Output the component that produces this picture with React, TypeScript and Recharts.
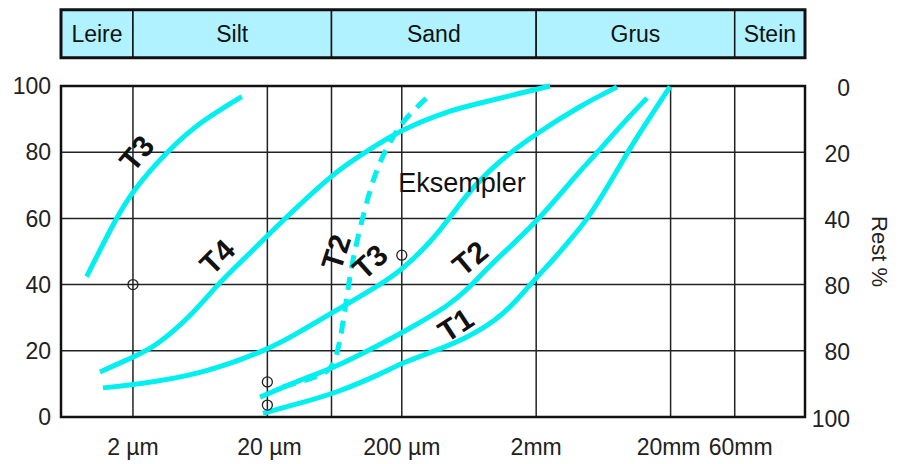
import React from 'react';
import { ComposedChart, Line, Scatter, XAxis, YAxis, CartesianGrid, ReferenceArea } from 'recharts';

// ---- axes ----
const X_MIN = 0.000583; // mm
const X_MAX = 200; // mm
const xTicks = [0.002, 0.02, 0.06, 0.2, 2, 20, 60];
const xTickLabels = ['2 µm', '20 µm', '', '200 µm', '2mm', '20mm', '60mm'];
const xTickNudge = [0, 2, 0, 0, 0, -2, 6];
const yTicks = [0, 20, 40, 60, 80, 100];
const yLeftLabels = ['0', '20', '40', '60', '80', '100'];
const yRightLabels = ['100', '80', '80', '40', '20', '0'];
// "Rest %" scale runs opposite to the passing %
const restX = [X_MIN, X_MAX];
const restY = [0, 100];

// ---- fraction band on top ----
const bandNames = ['Leire', 'Silt', 'Sand', 'Grus', 'Stein'];
const bandEdges = [X_MIN, 0.002, 0.06, 2, 60, X_MAX];
const BAND_Y1 = 108.5;
const BAND_Y2 = 123;

// ---- curves (x in mm, y in % passing) ----
const t3aX = [0.000905, 0.00147, 0.00201, 0.00357, 0.00631, 0.0129];
const t3aY = [42.4, 59.5, 68.6, 80.2, 89.2, 96.8];

const t4X = [0.001137, 0.002, 0.002917, 0.00579, 0.0084, 0.01486, 0.02615, 0.0656, 0.1097, 0.1941, 0.457, 0.764, 1.345, 2.536];
const t4Y = [13.6, 18.1, 21.1, 31.7, 39.9, 49.5, 59.5, 74.6, 80.2, 86.7, 92.7, 94.8, 97.3, 100];

const t3bX = [0.001197, 0.002, 0.00631, 0.02166, 0.035, 0.0656, 0.145, 0.1998, 0.3418, 0.498, 0.7015, 1.076, 2.03, 4.239, 7.99];
const t3bY = [8.8, 9.7, 12.7, 20.8, 25.8, 32.3, 40.5, 44.4, 53.5, 62.5, 70.1, 77.6, 85.8, 94, 99.7];

const t2X = [0.01764, 0.035, 0.0656, 0.145, 0.1998, 0.457, 0.644, 0.907, 2.03, 3.573, 5.671, 8.856, 13.36];
const t2Y = [6.0, 11.2, 15.2, 22.4, 25.4, 33.8, 39.3, 45.9, 58.9, 71, 79.8, 88.8, 96.4];

const t1X = [0.01856, 0.035, 0.0656, 0.145, 0.1998, 0.364, 0.571, 1.0226, 1.44, 2.03, 2.669, 3.573, 4.779, 7.085, 9.985, 14.06, 19.82];
const t1Y = [1.1, 4.2, 7.3, 13.3, 16.3, 20.2, 23.3, 29.3, 35.3, 42.4, 47.4, 53.5, 59.5, 70.7, 81.3, 90.6, 99.8];

const t2dX = [0.02615, 0.04153, 0.0585, 0.06594, 0.0719, 0.0783, 0.0868, 0.1066, 0.1308, 0.1635, 0.2043, 0.3359];
const t2dY = [9.1, 11.5, 13.6, 18.7, 26.3, 36.9, 48.3, 63.4, 75.5, 83.1, 89.7, 97.9];

// ---- sample circles ----
const circX = [0.002, 0.02, 0.02, 0.2];
const circY = [40, 10.6, 3.6, 48.9];

// ---- in-plot labels ----
const labelTexts = ['T3', 'T4', 'T2', 'T3', 'T2', 'T1', 'Eksempler'];
const labelX = [0.00213, 0.00848, 0.0648, 0.116, 0.644, 0.504, 0.561];
const labelY = [79.7, 48.4, 49.8, 46.9, 48, 27.8, 70.7];
const labelAngles = [-50, -45, -72, -42, -40, -33, 0];
const labelBold = [true, true, true, true, true, true, false];

const CYAN = '#00f0f0';
const FONT = '"Liberation Sans", Arial, Helvetica, sans-serif';

const toPts = (xs: number[], ys: number[]) => xs.map((x, i) => ({ x, y: ys[i] }));
const curves = [
  { key: 't3a', data: toPts(t3aX, t3aY), dash: undefined as string | undefined },
  { key: 't4', data: toPts(t4X, t4Y), dash: undefined },
  { key: 't3b', data: toPts(t3bX, t3bY), dash: undefined },
  { key: 't2', data: toPts(t2X, t2Y), dash: undefined },
  { key: 't1', data: toPts(t1X, t1Y), dash: undefined },
  { key: 't2d', data: toPts(t2dX, t2dY), dash: '13 9' },
];
const circles = toPts(circX, circY);
const restPts = toPts(restX, restY);
const labels = labelTexts.map((t, i) => ({ x: labelX[i], y: labelY[i], t, a: labelAngles[i], b: labelBold[i] }));

const findIdx = (arr: number[], v: number) => arr.findIndex((t) => t === v || Math.abs(t - v) / Math.abs(t || 1) < 1e-6);

function XTick(props: any) {
  const { x, y, payload } = props;
  const i = findIdx(xTicks, payload.value);
  return (
    <text x={x + (xTickNudge[i] ?? 0)} y={y + 38} textAnchor="middle" fontSize={23} fill="#222" fontFamily={FONT}>
      {xTickLabels[i] ?? ''}
    </text>
  );
}

function YLeftTick(props: any) {
  const { x, y, payload } = props;
  const i = findIdx(yTicks, payload.value);
  return (
    <text x={x - 10} y={y} dy="0.36em" textAnchor="end" fontSize={23} fill="#222" fontFamily={FONT}>
      {yLeftLabels[i] ?? ''}
    </text>
  );
}

function YRightTick(props: any) {
  const { x, y, payload } = props;
  const i = findIdx(yTicks, payload.value);
  return (
    <text x={x + 45} y={y} dy="0.42em" textAnchor="end" fontSize={23} fill="#222" fontFamily={FONT}>
      {yRightLabels[i] ?? ''}
    </text>
  );
}

const RightTitle = (p: any) => {
  const vb = p.viewBox || { x: 805, y: 86, width: 60, height: 331 };
  const cx = vb.x + vb.width + 14;
  const cy = vb.y + vb.height / 2;
  return (
    <text x={cx} y={cy} transform={`rotate(90 ${cx} ${cy})`} textAnchor="middle" dominantBaseline="central" fontSize={22} fill="#222" fontFamily={FONT}>
      Rest %
    </text>
  );
};

const CircleShape = (p: any) => (
  <circle cx={p.cx} cy={p.cy} r={5} fill="none" stroke="#222" strokeWidth={1.3} />
);

const LabelShape = (p: any) => {
  const { cx, cy, payload } = p;
  return (
    <text
      x={cx}
      y={cy}
      transform={`rotate(${payload.a} ${cx} ${cy})`}
      textAnchor="middle"
      dominantBaseline="central"
      fontSize={payload.b ? 30 : 27}
      fontWeight={payload.b ? 'bold' : 'normal'}
      fill="#111"
      fontFamily={FONT}
    >
      {payload.t}
    </text>
  );
};

export default function App() {
  return (
    <div style={{ position: 'absolute', left: 0, top: 0, width: 903, height: 464, background: '#fff', fontFamily: FONT }}>
      <ComposedChart width={903} height={464} margin={{ top: 86, right: 38, bottom: 7, left: 11 }}>
        <CartesianGrid stroke="#222" strokeWidth={1.5} />
        <XAxis
          dataKey="x"
          type="number"
          scale="log"
          domain={[X_MIN, X_MAX]}
          ticks={xTicks}
          tick={<XTick />}
          tickLine={false}
          axisLine={false}
          tickSize={0}
          tickMargin={0}
          height={40}
          interval={0}
        />
        <YAxis
          type="number"
          domain={[0, 100]}
          ticks={yTicks}
          tick={<YLeftTick />}
          tickLine={false}
          axisLine={false}
          tickSize={0}
          tickMargin={0}
          width={50}
          interval={0}
        />
        <YAxis
          yAxisId="right"
          orientation="right"
          type="number"
          domain={[0, 100]}
          ticks={yTicks}
          tick={<YRightTick />}
          tickLine={false}
          axisLine={false}
          tickSize={0}
          tickMargin={0}
          width={60}
          interval={0}
          label={RightTitle}
        />
        {bandNames.map((name, i) => (
          <ReferenceArea
            key={name}
            x1={bandEdges[i]}
            x2={bandEdges[i + 1]}
            y1={BAND_Y1}
            y2={BAND_Y2}
            ifOverflow="visible"
            fill="#b0f2ff"
            fillOpacity={1}
            stroke="#111"
            strokeWidth={1.5}
            label={{ value: name, position: 'center', fontSize: 23, fill: '#111', fontFamily: FONT }}
          />
        ))}
        <ReferenceArea
          x1={X_MIN}
          x2={X_MAX}
          y1={BAND_Y1}
          y2={BAND_Y2}
          ifOverflow="visible"
          fill="none"
          stroke="#111"
          strokeWidth={3}
        />
        <ReferenceArea
          x1={X_MIN}
          x2={X_MAX}
          y1={0}
          y2={100}
          ifOverflow="visible"
          fill="none"
          stroke="#111"
          strokeWidth={2.5}
        />
        <Line
          yAxisId="right"
          data={restPts}
          dataKey="y"
          stroke="none"
          dot={false}
          activeDot={false}
          legendType="none"
          isAnimationActive={false}
        />
        {curves.map((c) => (
          <Line
            key={c.key}
            data={c.data}
            dataKey="y"
            type="basis"
            stroke={CYAN}
            strokeWidth={5}
            strokeDasharray={c.dash}
            dot={false}
            activeDot={false}
            isAnimationActive={false}
          />
        ))}
        <Scatter data={circles} dataKey="y" shape={CircleShape} isAnimationActive={false} />
        <Scatter data={labels} dataKey="y" shape={LabelShape} isAnimationActive={false} />
      </ComposedChart>
    </div>
  );
}
